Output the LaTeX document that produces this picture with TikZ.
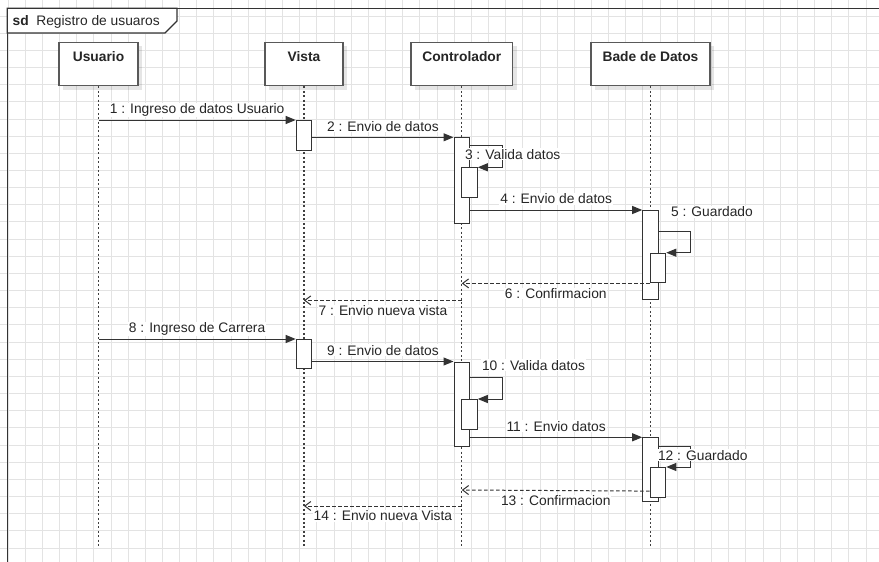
\documentclass[tikz,border=0pt]{standalone}
\usepackage{fontspec}
\setmainfont{Liberation Sans}
\usetikzlibrary{arrows.meta,calc,shadows}
\begin{document}
\begin{tikzpicture}[x=1pt,y=-1pt,
  font=\fontsize{13.8}{16}\selectfont,
  gridline/.style={draw=black!11, line width=0.9pt},
  frameline/.style={draw=black!80, line width=1.2pt},
  head/.style={draw=black!65, line width=1.3pt, fill=white, minimum height=43.5pt, inner sep=0pt,
    drop shadow={shadow xshift=4pt, shadow yshift=-4pt, fill=black, opacity=0.10}},
  headtxt/.style={anchor=base, inner sep=0pt, font=\fontsize{13.8}{16}\selectfont\bfseries, text=black!85},
  lifeline/.style={draw=black!75, line width=1.1pt, dash pattern=on 2pt off 2.4pt},
  act/.style={draw=black!80, fill=white, line width=1.1pt, minimum width=15.5pt, inner sep=0pt, anchor=north},
  msg/.style={draw=black!80, line width=1pt, -{Triangle[length=10pt,width=8pt]}},
  ret/.style={draw=black!80, line width=1pt, dash pattern=on 3.5pt off 2.5pt, -{Straight Barb[length=6pt,width=9pt]}},
  lbl/.style={fill=white, inner sep=0.8pt, text=black!85},
  above lbl/.style={lbl, anchor=base, yshift=6.3pt},
  below lbl/.style={lbl, anchor=base, yshift=-14.9pt},
  self lbl/.style={lbl, anchor=base west}
]
\useasboundingbox (0,0) rectangle (879,562);
\clip (0,0) rectangle (879,562);
\fill[white] (0,0) rectangle (879,562);

% grid
\foreach \i in {0,...,51} \draw[gridline] ({8+17.16*\i},0) -- ({8+17.16*\i},562);
\foreach \j in {0,...,33} \draw[gridline] (0,{-1.16+17.16*\j}) -- (879,{-1.16+17.16*\j});

% frame
\draw[frameline] (7.3,8.3) rectangle (900,600);
\draw[frameline, fill=white] (7.3,8.3) -- (177,8.3) -- (177,21) -- (165,33) -- (7.3,33) -- cycle;
\node[anchor=base west, inner sep=0pt, text=black!85] (sdt) at (12.5,25) {\textbf{sd}\hspace{7.5pt}Registro de usuaros};

% lifeline heads
\node[head, minimum width=79pt] (uh) at (98.5,64) {};
\node[head, minimum width=78pt] (vh) at (304,64) {};
\node[head, minimum width=101.7pt] (ch) at (461.8,64) {};
\node[head, minimum width=119pt] (dh) at (650.5,64) {};
\node[headtxt] (uht) at (98.5,61) {Usuario};
\node[headtxt] (vht) at (304,61) {Vista};
\node[headtxt] (cht) at (461.8,61) {Controlador};
\node[headtxt] (dht) at (650.5,61) {Bade de Datos};

% lifeline ends
\coordinate (uend) at (98.5,547);
\coordinate (vend) at (304,547);
\coordinate (cend) at (461.8,547);
\coordinate (dend) at (650.5,547);
\draw[lifeline] (uh.south) -- (uend);
\draw[lifeline] (vh.south) -- (vend);
\draw[lifeline] (ch.south) -- (cend);
\draw[lifeline] (dh.south) -- (dend);

% activations
\node[act, minimum height=30pt] (va1) at (304,120) {};
\node[act, minimum height=85.4pt] (ca1) at (461.8,137.3) {};
\node[act, minimum height=29.4pt] (cn1) at (469.5,167.3) {};
\node[act, minimum height=89.3pt] (da1) at (650.5,210) {};
\node[act, minimum height=29.6pt] (dn1) at (658,252.7) {};
\node[act, minimum height=29.3pt] (va2) at (304,339) {};
\node[act, minimum height=84.5pt] (ca2) at (461.8,361.5) {};
\node[act, minimum height=30pt] (cn2) at (469.5,399) {};
\node[act, minimum height=63.4pt] (da2) at (650.5,437.3) {};
\node[act, minimum height=29.7pt] (dn2) at (658,467) {};

% messages
\draw[msg] (uend |- va1.north) -- node[above lbl] (l1) {1 : Ingreso de datos Usuario} (va1.north west);
\draw[msg] (va1.east |- ca1.north) -- node[above lbl] (l2) {2 : Envio de datos} (ca1.north west);
\draw[msg] ([yshift=-8.4pt]ca1.north east) -- ++(32.5,0) |- (cn1.north east);
\node[self lbl] (l3) at (464,159) {3 : Valida datos};
\draw[msg] (ca1.east |- da1.north) -- node[above lbl] (l4) {4 : Envio de datos} (da1.north west);
\draw[msg] ([yshift=-21.7pt]da1.north east) -- ++(31.5,0) |- (dn1.north east);
\node[self lbl] (l5) at (670,216.6) {5 : Guardado};
\draw[ret] (dn1.south west) -- node[below lbl] (l6) {6 : Confirmacion} (cend |- dn1.south west);
\draw[ret] (cend |- da1.south) -- node[below lbl] (l7) {7 : Envio nueva vista} (vend |- da1.south);

\draw[msg] (uend |- va2.north) -- node[above lbl] (l8) {8 : Ingreso de Carrera} (va2.north west);
\draw[msg] (va2.east |- ca2.north) -- node[above lbl] (l9) {9 : Envio de datos} (ca2.north west);
\draw[msg] ([yshift=-16.2pt]ca2.north east) -- ++(32.5,0) |- (cn2.north east);
\node[self lbl] (l10) at (481,370) {10 : Valida datos};
\draw[msg] (ca2.east |- da2.north) -- node[above lbl] (l11) {11 : Envio datos} (da2.north west);
\draw[msg] ([yshift=-8.7pt]da2.north east) -- ++(31.5,0) |- (dn2.north east);
\node[self lbl] (l12) at (657,460) {12 : Guardado};
\coordinate (r13) at (650.5,490);
\draw[ret] ([yshift=6.7pt]dn2.south west) -- node[below lbl] (l13) {13 : Confirmacion} (cend |- r13);
\coordinate (r14) at (461.8,506);
\draw[ret] (r14) -- node[below lbl] (l14) {14 : Envio nueva Vista} (vend |- r14);
\end{tikzpicture}
\end{document}
